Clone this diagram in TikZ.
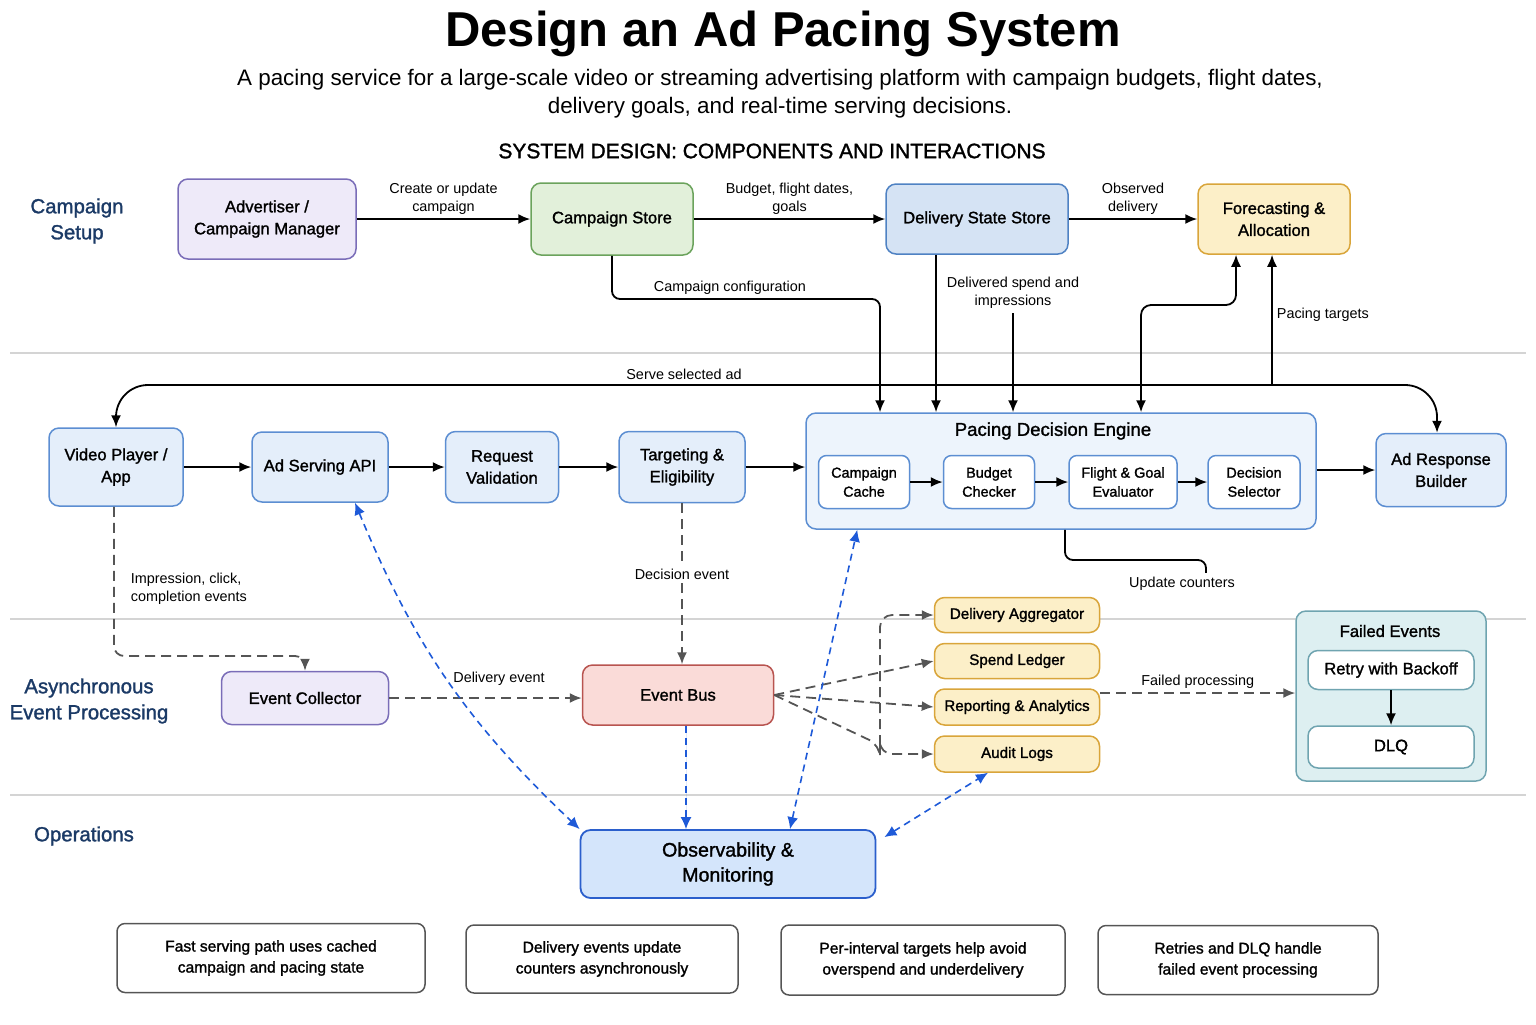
\documentclass[tikz,border=0pt]{standalone}
\usepackage{fontspec}
\setmainfont{Liberation Sans}
\newfontfamily\medfont[FakeBold=1.4]{Liberation Sans}
\usepackage{xcolor}
\usetikzlibrary{arrows.meta,positioning}

\definecolor{purpleFill}{HTML}{EEEAF9}
\definecolor{purpleLine}{HTML}{7A6DB8}
\definecolor{greenFill}{HTML}{E2F0DA}
\definecolor{greenLine}{HTML}{6BA35C}
\definecolor{storeFill}{HTML}{D5E3F4}
\definecolor{storeLine}{HTML}{4F82C3}
\definecolor{yellowFill}{HTML}{FCEFC8}
\definecolor{yellowLine}{HTML}{D9A53A}
\definecolor{rowFill}{HTML}{E4EEFA}
\definecolor{rowLine}{HTML}{5C8ED2}
\definecolor{engineFill}{HTML}{EDF4FC}
\definecolor{redFill}{HTML}{FADBD8}
\definecolor{redLine}{HTML}{B85450}
\definecolor{tealFill}{HTML}{DDEFF1}
\definecolor{tealLine}{HTML}{6FA4B0}
\definecolor{obsFill}{HTML}{D4E5FB}
\definecolor{obsLine}{HTML}{2B5FCC}
\definecolor{laneText}{HTML}{1B3A66}
\definecolor{dashGray}{HTML}{555555}
\definecolor{blueDash}{HTML}{1E5AD8}
\definecolor{sepGray}{HTML}{D4D4D4}
\definecolor{noteLine}{HTML}{555555}

\begin{document}
\begin{tikzpicture}[
  x=0.5pt,y=-0.5pt,
  font=\medfont\fontsize{8.3}{11}\selectfont,
  sz/.style 2 args={minimum width=#1*0.5pt,minimum height=#2*0.5pt},
  box/.style={draw,rounded corners=5pt,align=center,line width=0.75pt,inner sep=2pt},
  purplebox/.style={box,fill=purpleFill,draw=purpleLine},
  greenbox/.style={box,fill=greenFill,draw=greenLine},
  storebox/.style={box,fill=storeFill,draw=storeLine},
  yellowbox/.style={box,fill=yellowFill,draw=yellowLine,font=\medfont\fontsize{7.6}{9}\selectfont},
  rowbox/.style={box,fill=rowFill,draw=rowLine},
  redbox/.style={box,fill=redFill,draw=redLine},
  inbox/.style={box,fill=white,draw=rowLine,rounded corners=4pt,font=\medfont\fontsize{7.2}{9.5}\selectfont},
  note/.style={box,fill=white,draw=noteLine,rounded corners=4pt,font=\medfont\fontsize{7.8}{10.5}\selectfont},
  lane/.style={align=center,text=laneText,font=\medfont\fontsize{10.2}{13}\selectfont},
  lbl/.style={align=center,font=\fontsize{7.2}{9}\selectfont,inner sep=2pt},
  sep/.style={draw=sepGray,line width=0.6pt},
  arrow/.style={-{Latex[length=6pt,width=5pt]},line width=0.9pt},
  dblarrow/.style={{Latex[length=6pt,width=5pt]}-{Latex[length=6pt,width=5pt]},line width=0.9pt},
  plain/.style={line width=0.9pt},
  dasharrow/.style={-{Latex[length=6pt,width=5pt]},draw=dashGray,line width=0.9pt,dash pattern=on 5pt off 3pt},
  bluearrow/.style={-{Latex[length=6pt,width=5.5pt]},draw=blueDash,fill=blueDash,line width=0.8pt,dash pattern=on 3.5pt off 2.5pt},
  bluedbl/.style={{Latex[length=6pt,width=5.5pt]}-{Latex[length=6pt,width=5.5pt]},draw=blueDash,line width=0.8pt,dash pattern=on 3.5pt off 2.5pt}
]
\useasboundingbox (0,0) rectangle (1536,1024);

% title block
\node[font=\bfseries\fontsize{24.5}{28}\selectfont] (title) at (783,34) {Design an Ad Pacing System};
\node[align=center,font=\fontsize{11.2}{14}\selectfont] (subtitle) at (780,94) {A pacing service for a large-scale video or streaming advertising platform with campaign budgets, flight dates,\\delivery goals, and real-time serving decisions.};
\node[font=\medfont\fontsize{10.5}{12}\selectfont] (heading) at (772,151) {SYSTEM DESIGN: COMPONENTS AND INTERACTIONS};

% lanes
\node[lane] (laneSetup) at (77,221) {Campaign\\Setup};
\node[lane] (laneAsync) at (89,701) {Asynchronous\\Event Processing};
\node[lane] (laneOps) at (84,836) {Operations};
\draw[sep] (10,353) -- (1526,353);
\draw[sep] (10,619) -- (1526,619);
\draw[sep] (10,795) -- (1526,795);

% campaign setup row
\node[purplebox,sz={178}{80}] (advertiser) at (267,219) {Advertiser /\\Campaign Manager};
\node[greenbox,sz={162}{72}] (cstore) at (612,219) {Campaign Store};
\node[storebox,sz={182}{70}] (dstore) at (977,219) {Delivery State Store};
\node[box,fill=yellowFill,draw=yellowLine,sz={152}{70}] (forecast) at (1274,219) {Forecasting \&\\Allocation};

\draw[arrow] (advertiser) -- node[lbl,above]{Create or update\\campaign} (cstore);
\draw[arrow] (cstore) -- node[lbl,above]{Budget, flight dates,\\goals} (dstore);
\draw[arrow] (dstore) -- node[lbl,above]{Observed\\delivery} (forecast);

% serving row
\node[rowbox,sz={134}{78}] (player) at (116,467) {Video Player /\\App};
\node[rowbox,sz={136}{70}] (api) at (320,467) {Ad Serving API};
\node[rowbox,sz={113}{71}] (validate) at (502,467) {Request\\Validation};
\node[rowbox,sz={126}{71}] (targeting) at (682,467) {Targeting \&\\Eligibility};
\node[box,fill=engineFill,draw=rowLine,sz={510}{116}] (engine) at (1061,471) {};
\node[font=\medfont\fontsize{9.3}{11}\selectfont] (engineTitle) at (1053,431) {Pacing Decision Engine};
\node[inbox,sz={91}{53}] (cache) at (864,482) {Campaign\\Cache};
\node[inbox,sz={91}{53}] (budget) at (989,482) {Budget\\Checker};
\node[inbox,sz={108}{53}] (flight) at (1123,482) {Flight \& Goal\\Evaluator};
\node[inbox,sz={92}{53}] (selector) at (1254,482) {Decision\\Selector};
\node[rowbox,sz={130}{73}] (response) at (1441,470) {Ad Response\\Builder};

\draw[arrow] (player) -- (api);
\draw[arrow] (api) -- (validate);
\draw[arrow] (validate) -- (targeting);
\draw[arrow] (targeting.east) -- (targeting.east -| engine.west);
\draw[arrow] (cache) -- (budget);
\draw[arrow] (budget) -- (flight);
\draw[arrow] (flight) -- (selector);
\draw[arrow] (engine.east |- response) -- (response.west);

% state feeding the engine
\coordinate (cfgTurn) at (880,299);
\draw[arrow,rounded corners=4pt] (cstore.south) |- node[lbl,pos=0.72,above]{Campaign configuration} (cfgTurn) -- (cfgTurn |- engine.north);
\coordinate (dsX) at (936,0);
\draw[arrow] (dstore.south -| dsX) -- (engine.north -| dsX);
\node[lbl] (deliveredLbl) at (1013,293) {Delivered spend and\\impressions};
\draw[arrow] (deliveredLbl.south) -- (deliveredLbl.south |- engine.north);
\coordinate (fcA) at (1141,305);
\coordinate (fcB) at (1236,305);
\draw[dblarrow,rounded corners=5pt] (engine.north -| fcA) -- (fcA) -- (fcB) -- (forecast.south -| fcB);
\coordinate (pacingFoot) at (1272,385);
\draw[arrow] (pacingFoot) -- node[lbl,pos=0.54,right]{Pacing targets} (forecast.south -| pacingFoot);

% serve path back to the player
\coordinate (serveL) at (116,385);
\coordinate (serveR) at (1437,385);
\draw[dblarrow,rounded corners=16pt] (player.north) -- (serveL) -- node[lbl,pos=0.43,above]{Serve selected ad} (serveR) -- (serveR |- response.north);

% counters
\node[lbl] (updLbl) at (1182,584) {Update counters};
\coordinate (updA) at (1065,560);
\coordinate (updB) at (1206,560);
\draw[plain,rounded corners=4pt] (engine.south -| updA) -- (updA) -- (updB) -- (updLbl.north -| updB);

% asynchronous events
\node[purplebox,sz={167}{53}] (collector) at (305,698) {Event Collector};
\node[redbox,sz={191}{60}] (bus) at (678,695) {Event Bus};
\node[yellowbox,sz={165}{35}] (aggregator) at (1017,615) {Delivery Aggregator};
\node[yellowbox,sz={165}{35}] (ledger) at (1017,661) {Spend Ledger};
\node[yellowbox,sz={165}{36}] (reporting) at (1017,707) {Reporting \& Analytics};
\node[yellowbox,sz={165}{36}] (audit) at (1017,754) {Audit Logs};

\coordinate (evTurn) at (114,656);
\draw[dasharrow,rounded corners=5pt] (player.south -| evTurn) -- node[lbl,pos=0.55,right=6pt,align=left]{Impression, click,\\completion events} (evTurn) -- (evTurn -| collector) -- (collector.north);
\draw[dasharrow] (collector.east) -- node[lbl,pos=0.57,above=4pt]{Delivery event} (collector.east -| bus.west);
\draw[dasharrow] (targeting.south) -- node[lbl,pos=0.44,fill=white]{Decision event} (targeting.south |- bus.north);

\coordinate (fanB) at (880,745);
\draw[dasharrow] (bus.east) -- (ledger.west);
\draw[dasharrow] (bus.east) -- (reporting.west);
\draw[dasharrow,rounded corners=6pt] (bus.east) -- (fanB) |- (audit.west);
\draw[dasharrow,rounded corners=6pt] (fanB) |- (aggregator.west);

% failed events
\node[box,fill=tealFill,draw=tealLine,sz={190}{170}] (failed) at (1391,696) {};
\node (failedTitle) at (1390,631) {Failed Events};
\node[box,fill=white,draw=tealLine,sz={166}{39}] (retry) at (1391,670) {Retry with Backoff};
\node[box,fill=white,draw=tealLine,sz={166}{42}] (dlq) at (1391,747) {DLQ};
\draw[arrow] (retry) -- (dlq);
\draw[dasharrow] ([yshift=7pt]reporting.east) -- node[lbl,above]{Failed processing} ([yshift=7pt]reporting.east -| failed.west);

% operations
\node[box,fill=obsFill,draw=obsLine,line width=0.9pt,font=\medfont\fontsize{9.8}{12.5}\selectfont,sz={295}{68}] (obs) at (728,864) {Observability \&\\Monitoring};
\draw[bluedbl] ([xshift=17.5pt]api.south) to[bend right=12] (obs.north west);
\draw[bluearrow] ([xshift=4pt]bus.south) -- ([xshift=4pt]bus.south |- obs.north);
\draw[bluedbl] ([xshift=31pt]obs.north) -- ([xshift=26pt]engine.south west);
\draw[bluedbl] ([shift={(4pt,-4pt)}]obs.north east) -- ([xshift=-14.5pt]audit.south);

% notes
\node[note,sz={308}{69}] (note1) at (271,958) {Fast serving path uses cached\\campaign and pacing state};
\node[note,sz={272}{68}] (note2) at (602,959) {Delivery events update\\counters asynchronously};
\node[note,sz={284}{70}] (note3) at (923,960) {Per-interval targets help avoid\\overspend and underdelivery};
\node[note,sz={280}{69}] (note4) at (1238,960) {Retries and DLQ handle\\failed event processing};
\end{tikzpicture}
\end{document}
